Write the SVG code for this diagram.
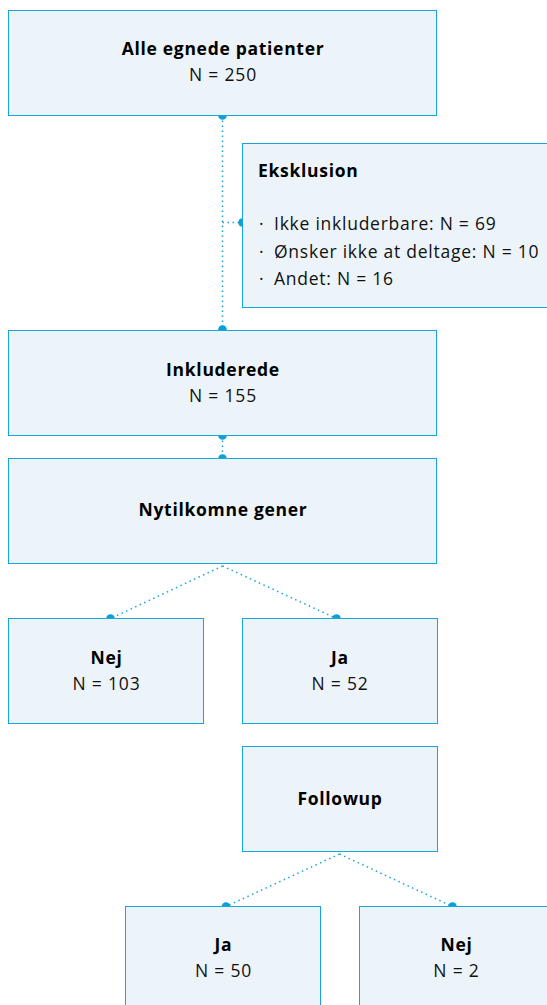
<svg xmlns="http://www.w3.org/2000/svg" width="547" height="1005" viewBox="0 0 547 1005">
<style>
.box{fill:#ecf4fa;stroke:#16a6db;stroke-width:1}
.t{font-family:"Open Sans","Liberation Sans",sans-serif;font-size:17.5px;font-weight:700;letter-spacing:0.7px;fill:#000;text-anchor:middle}
.n{font-family:"Open Sans","Liberation Sans",sans-serif;font-size:17.5px;letter-spacing:0.8px;fill:#111;text-anchor:middle}
.l{font-family:"Open Sans","Liberation Sans",sans-serif;font-size:17.5px;letter-spacing:0.75px;fill:#111}
.h{font-family:"Open Sans","Liberation Sans",sans-serif;font-size:17.5px;font-weight:700;letter-spacing:0.7px;fill:#000}
.c{fill:none;stroke:#16a6db;stroke-width:1.5;stroke-dasharray:1.5 3.5}
.d{fill:#0aa1d9}
</style>
<g id="connectors">
<path class="c" d="M222.5 115.5V330.5"/>
<path class="c" d="M222.5 222.5H242.5"/>
<path class="c" d="M222.5 435.5V458.5"/>
<path class="c" d="M222.5 566L110.5 618.5"/>
<path class="c" d="M222.5 566L336.5 618.5"/>
<path class="c" d="M339.5 854L226 906.5"/>
<path class="c" d="M339.5 854L452.5 906.5"/>
<circle class="d" cx="222.5" cy="115.5" r="4.3"/>
<circle class="d" cx="222.5" cy="329.5" r="4.3"/>
<circle class="d" cx="242.5" cy="222.5" r="4.3"/>
<circle class="d" cx="222.5" cy="435.5" r="4.3"/>
<circle class="d" cx="222.5" cy="458.5" r="4.3"/>
<circle class="d" cx="110.5" cy="618.5" r="4.3"/>
<circle class="d" cx="336.5" cy="618.5" r="4.3"/>
<circle class="d" cx="226" cy="906.5" r="4.3"/>
<circle class="d" cx="452.5" cy="906.5" r="4.3"/>
</g>
<g id="alle">
<rect class="box" x="8.5" y="10.5" width="428" height="105"/>
<text class="t" x="223" y="55">Alle egnede patienter</text>
<text class="n" x="223" y="81">N = 250</text>
</g>
<g id="eksklusion">
<rect class="box" x="242.5" y="143.5" width="310" height="164"/>
<text class="h" x="258" y="177">Eksklusion</text>
<text class="l" x="259" y="230">·</text>
<text class="l" x="274" y="230">Ikke inkluderbare: N = 69</text>
<text class="l" x="259" y="258">·</text>
<text class="l" x="274" y="258">Ønsker ikke at deltage: N = 10</text>
<text class="l" x="259" y="285">·</text>
<text class="l" x="274" y="285">Andet: N = 16</text>
</g>
<g id="inkluderede">
<rect class="box" x="8.5" y="330.5" width="428" height="105"/>
<text class="t" x="223" y="376">Inkluderede</text>
<text class="n" x="223" y="402">N = 155</text>
</g>
<g id="nytilkomne">
<rect class="box" x="8.5" y="458.5" width="428" height="105"/>
<text class="t" x="223" y="516">Nytilkomne gener</text>
</g>
<g id="nej1">
<rect class="box" x="8.5" y="618.5" width="195" height="105"/>
<text class="t" x="106.5" y="664">Nej</text>
<text class="n" x="106.5" y="690">N = 103</text>
</g>
<g id="ja1">
<rect class="box" x="242.5" y="618.5" width="195" height="105"/>
<text class="t" x="340" y="664">Ja</text>
<text class="n" x="340" y="690">N = 52</text>
</g>
<g id="followup">
<rect class="box" x="242.5" y="746.5" width="195" height="105"/>
<text class="t" x="340" y="805">Followup</text>
</g>
<g id="ja2">
<rect class="box" x="125.5" y="906.5" width="195" height="105"/>
<text class="t" x="223.5" y="951">Ja</text>
<text class="n" x="223.5" y="977">N = 50</text>
</g>
<g id="nej2">
<rect class="box" x="359.5" y="906.5" width="195" height="105"/>
<text class="t" x="456.5" y="951">Nej</text>
<text class="n" x="456.5" y="977">N = 2</text>
</g>
</svg>
